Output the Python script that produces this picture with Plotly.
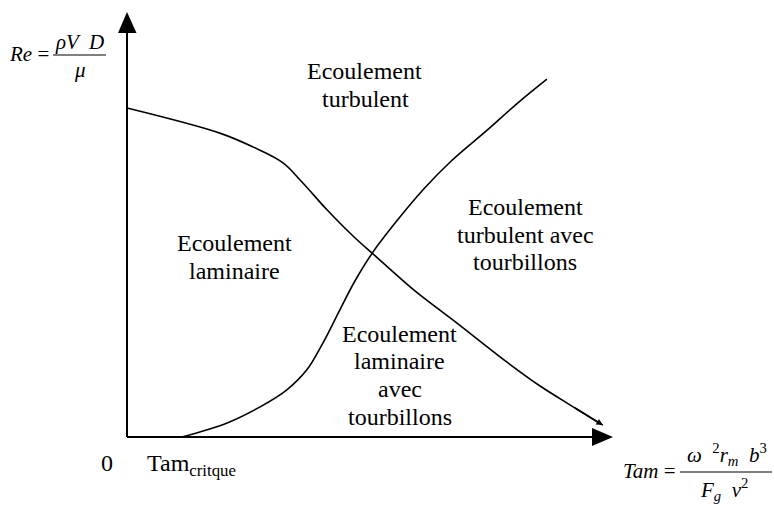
import plotly.graph_objects as go

# Re / Tam plane (arbitrary units, axis tip at 100)
tam_laminar = [0, 19.1, 26.0, 32.1, 36.0, 41.2, 46.5, 50.6, 58.8, 67.9, 78.2, 85.0, 91.8, 97.9]
re_laminar = [77.4, 71.5, 68.2, 64.5, 60.0, 53.4, 47.3, 43.1, 34.8, 26.8, 17.6, 12.0, 7.1, 2.8]

tam_vortex = [11.3, 20.6, 27.4, 32.9, 37.0, 40.3, 43.8, 46.9, 50.6, 56.2, 61.1, 66.5, 74.1, 80.2, 86.4]
re_vortex = [0, 3.3, 7.1, 11.1, 15.8, 22.1, 29.9, 36.7, 43.5, 51.8, 58.4, 64.7, 72.2, 78.4, 84.2]

W, H = 774, 511
X0, Y0 = 127, 437          # origin in pixels
SX, SY = 4.86, 4.25        # pixels per unit

FONT = "Liberation Serif, Times New Roman, serif"


def P(px, py):
    return px / W, 1 - py / H


fig = go.Figure()

for xs, ys in [(tam_laminar, re_laminar), (tam_vortex, re_vortex)]:
    fig.add_trace(go.Scatter(x=xs, y=ys, mode="lines", line=dict(color="black", width=1.6, shape="spline", smoothing=1),
                             hoverinfo="skip", showlegend=False))

# small arrow at the end of the laminar curve
fig.add_annotation(x=tam_laminar[-1], y=re_laminar[-1], ax=tam_laminar[-2], ay=re_laminar[-2],
                   xref="x", yref="y", axref="x", ayref="y", text="", showarrow=True,
                   arrowhead=2, arrowsize=0.8, arrowwidth=1.6, arrowcolor="black", standoff=0)

# axes
fig.add_shape(type="line", x0=0, y0=0, x1=96, y1=0, line=dict(color="black", width=2))
fig.add_shape(type="line", x0=0, y0=0, x1=0, y1=95.3, line=dict(color="black", width=2))


def tri(pts):
    p = [P(a, b) for a, b in pts]
    return "M %f %f L %f %f L %f %f Z" % (p[0][0], p[0][1], p[1][0], p[1][1], p[2][0], p[2][1])


fig.add_shape(type="path", xref="paper", yref="paper", path=tri([(127, 12), (118, 33), (136.5, 33)]),
              fillcolor="black", line=dict(color="black", width=0))
fig.add_shape(type="path", xref="paper", yref="paper", path=tri([(613, 437), (592, 428), (592, 446)]),
              fillcolor="black", line=dict(color="black", width=0))


def label(text, px, py, size=24, anchor="center"):
    x, y = P(px, py)
    fig.add_annotation(x=x, y=y, xref="paper", yref="paper", text=text, showarrow=False,
                       xanchor=anchor, yanchor="middle", font=dict(family=FONT, size=size, color="black"))


# region names
for t, px, py in [("Ecoulement", 364, 71), ("turbulent", 365, 99),
                  ("Ecoulement", 525, 207), ("turbulent avec", 525, 235), ("tourbillons", 525, 262),
                  ("Ecoulement", 234, 243), ("laminaire", 234, 271),
                  ("Ecoulement", 400, 334), ("laminaire", 400, 361), ("avec", 400, 389), ("tourbillons", 400, 417)]:
    label(t, px, py)

# origin / critical value
label("0", 107, 463)
label("Tam<sub>critque</sub>", 145, 465, anchor="left")

# Re formula
label("<i>Re</i> =", 51, 54, size=21, anchor="right")
label("<i>ρV  D</i>", 79, 42, size=21)
label("<i>μ</i>", 80, 70, size=21)
x0, y0 = P(53, 55)
x1, _ = P(106, 55)
fig.add_shape(type="line", xref="paper", yref="paper", x0=x0, y0=y0, x1=x1, y1=y0, line=dict(color="black", width=1))

# Tam formula
label("<i>Tam</i> =", 678, 471, size=21, anchor="right")
label("<i>ω</i>  <sup>2</sup><i>r<sub>m</sub></i>  <i>b</i><sup>3</sup>", 727, 454, size=21)
label("<i>F<sub>g</sub></i>  <i>ν</i><sup>2</sup>", 724, 489, size=21)
x0, y0 = P(680, 472)
x1, _ = P(772, 472)
fig.add_shape(type="line", xref="paper", yref="paper", x0=x0, y0=y0, x1=x1, y1=y0, line=dict(color="black", width=1))

fig.update_xaxes(range=[-X0 / SX, (W - X0) / SX], visible=False, fixedrange=True)
fig.update_yaxes(range=[-(H - Y0) / SY, Y0 / SY], visible=False, fixedrange=True)
fig.update_layout(width=W, height=H, margin=dict(l=0, r=0, t=0, b=0, pad=0),
                  plot_bgcolor="white", paper_bgcolor="white", font_family=FONT)

fig.write_html("out.html", config={"displayModeBar": False},
               post_script="document.body.style.margin='0';document.body.style.overflow='hidden';")
